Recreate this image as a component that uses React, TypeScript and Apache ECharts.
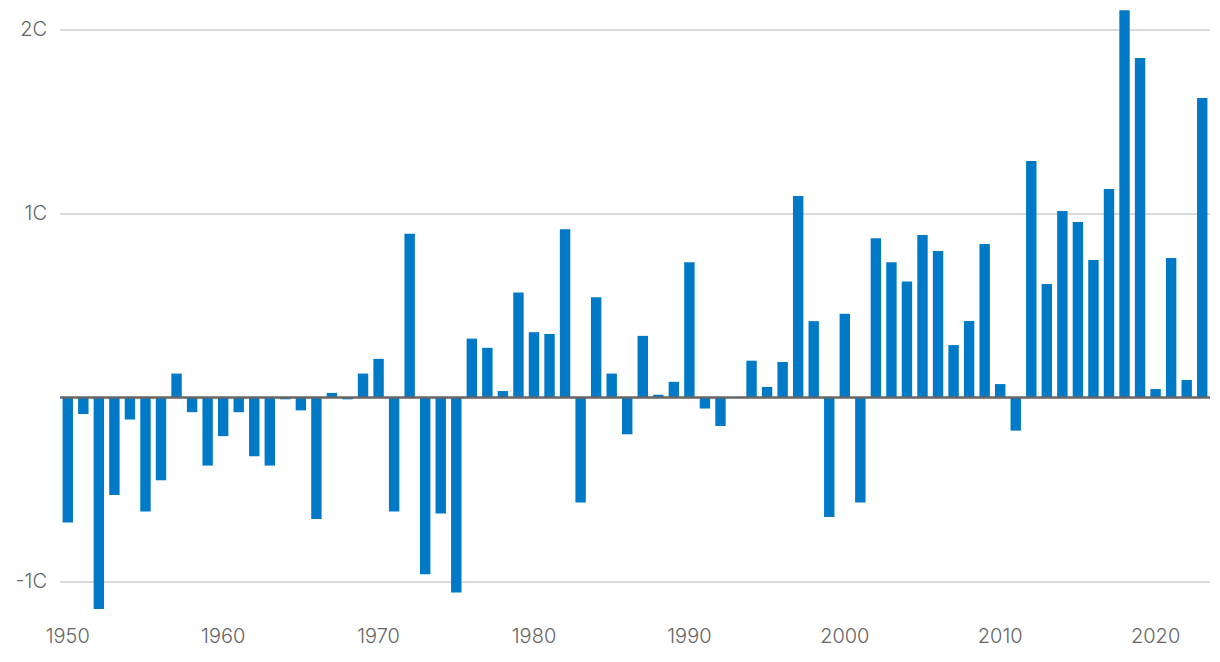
import React, { useEffect, useRef } from "react";
import * as echarts from "echarts";

const years: string[] = [];
for (let y = 1950; y <= 2023; y++) years.push(String(y));

const anomalies: number[] = [
  -0.68, -0.09, -1.15, -0.53, -0.12, -0.62, -0.45, 0.13, -0.08, -0.37,
  -0.21, -0.08, -0.32, -0.37, -0.01, -0.07, -0.66, 0.025, -0.01, 0.13,
  0.21, -0.62, 0.89, -0.96, -0.63, -1.06, 0.32, 0.27, 0.035, 0.57,
  0.355, 0.345, 0.915, -0.57, 0.545, 0.13, -0.2, 0.335, 0.015, 0.085,
  0.735, -0.06, -0.155, 0, 0.2, 0.057, 0.193, 1.095, 0.415, -0.65,
  0.455, -0.57, 0.865, 0.735, 0.63, 0.883, 0.796, 0.285, 0.416, 0.834,
  0.073, -0.18, 1.285, 0.617, 1.014, 0.954, 0.747, 1.133, 2.105, 1.845,
  0.046, 0.758, 0.095, 1.628,
];

const yMin = -1.2;
const yMax = 2.12;

export default function App() {
  const ref = useRef<HTMLDivElement>(null);
  useEffect(() => {
    if (!ref.current) return;
    const chart = echarts.init(ref.current, undefined, { renderer: "svg" });
    const font = "Inter, 'Open Sans', sans-serif";
    chart.setOption({
      animation: false,
      backgroundColor: "#ffffff",
      grid: { left: 60, right: 10, top: 7.4, bottom: 43.7, containLabel: false },
      xAxis: {
        type: "category",
        data: years,
        axisLine: { show: false },
        axisTick: { show: false },
        axisLabel: {
          interval: 9,
          color: "#666666",
          fontSize: 20,
          fontWeight: 300,
          fontFamily: font,
          margin: 8,
        },
        splitLine: { show: false },
      },
      yAxis: {
        type: "value",
        min: yMin,
        max: yMax,
        splitNumber: 3,
        axisLine: { show: false },
        axisTick: { show: false },
        axisLabel: {
          color: "#666666",
          fontSize: 20,
          fontWeight: 300,
          fontFamily: font,
          margin: 13,
          showMinLabel: false,
          showMaxLabel: false,
          formatter: (v: number) =>
            Math.abs(v) > 1e-9 && Math.abs(v - Math.round(v)) < 1e-9
              ? `${Math.round(v)}C`
              : "",
        },
        splitLine: {
          show: true,
          lineStyle: {
            width: 2,
            color: [
              "rgba(0,0,0,0)",
              "#d9d9d9",
              "rgba(0,0,0,0)",
              "#d9d9d9",
              "#d9d9d9",
              "rgba(0,0,0,0)",
            ],
          },
        },
      },
      series: [
        {
          type: "bar",
          data: anomalies,
          barWidth: "67%",
          itemStyle: { color: "#007AC7" },
          markLine: {
            silent: true,
            symbol: ["none", "none"],
            label: { show: false },
            lineStyle: { color: "#666666", width: 2.5, type: "solid" },
            data: [{ yAxis: 0 }],
            z: 10,
          },
        },
      ],
    });
    return () => chart.dispose();
  }, []);
  return (
    <div
      ref={ref}
      style={{ position: "fixed", left: 0, top: 0, width: 1220, height: 662 }}
    />
  );
}
